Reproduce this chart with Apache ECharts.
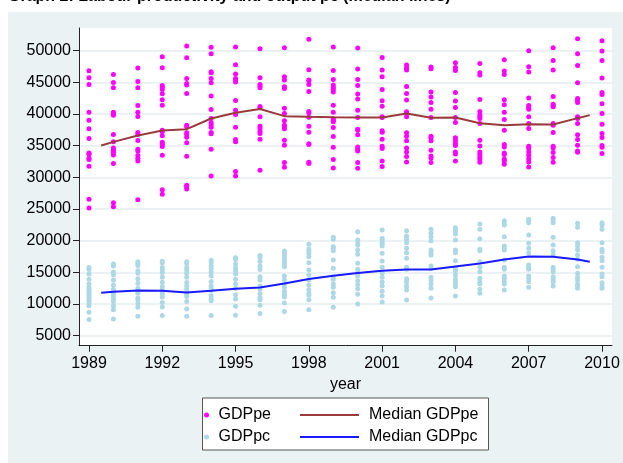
<!DOCTYPE html>
<html>
<head>
<meta charset="utf-8">
<script src="https://cdn.jsdelivr.net/npm/echarts@6/dist/echarts.min.js"></script>
<style>
html,body{margin:0;padding:0;background:#fff;}
#chart{width:623px;height:463px;}
</style>
</head>
<body>
<div id="chart"></div>
<script>
const years = [1989,1990,1991,1992,1993,1994,1995,1996,1997,1998,1999,2000,2001,2002,2003,2004,2005,2006,2007,2008,2009,2010];
const xTicks = [1989,1992,1995,1998,2001,2004,2007,2010];
const yTicks = [5000,10000,15000,20000,25000,30000,35000,40000,45000,50000];

// GDP per employed person, one list per year
const gdppe = [
  [46836,45729,44674,40298,39032,37661,36132,33865,33654,33022,32811,31756,26535,25164],
  [46256,44991,44147,40298,40087,39823,36765,35605,34656,34287,33970,33548,32177,26008,25375],
  [47258,45149,44147,41352,40298,39612,37081,36765,35816,34445,34181,33443,32968,32599,26482],
  [49051,47311,44516,44200,43883,43198,42249,41405,37450,37186,36554,35552,35236,34867,33496,28064,27326],
  [50738,48893,45623,44832,44569,43250,38241,37977,37028,36765,36343,35447,33338,28750,28486,28170],
  [50527,49525,46678,46520,45623,44938,42829,40720,39296,38610,38294,37925,37081,36870,34445,30226],
  [50580,47785,46309,45623,45360,45043,42143,40614,39929,37925,35974,35605,30911,30226],
  [50316,45729,44674,44411,44147,41194,41036,39560,38083,37714,37292,36923,36027,31123],
  [50474,45887,45360,44305,44042,40931,40087,38926,38241,37977,37661,35869,35078,32336,31598],
  [51793,46994,45360,45254,44674,43567,40403,40192,39507,38083,37134,35289,35184,32388,32177],
  [50580,46889,45465,44569,44200,43883,43461,41405,40298,39243,39032,38768,37872,36449,34761,32810,31492],
  [50421,47100,45465,44516,43145,42354,40614,39454,37608,37450,36712,34814,34498,34181,32336,31439],
  [48945,46941,45887,43883,42090,41246,39560,39454,37345,37134,36027,34919,34550,32599,31703],
  [47732,47258,46941,44358,43250,42196,40351,40087,39560,37028,36501,35763,34656,34023,33285,32441],
  [47416,47153,43461,42671,41827,40772,39454,36501,36237,35763,34287,33391,33074,32336],
  [48102,47363,46889,43408,42038,41036,39454,38663,36237,35869,35394,35025,34023,33707,32599],
  [47996,46520,46151,42301,40403,39876,39560,39296,38505,35869,34972,34023,33601,33179,32810,32388],
  [48576,46783,46256,42249,41458,40298,39138,37450,35183,34814,33865,33601,32915,32599,32072],
  [50000,47469,46625,42513,41352,41036,40772,39560,38505,37714,34919,34550,34023,33496,32915,32441,31650],
  [50474,48471,46941,42776,41563,41352,41141,38505,38241,37081,34919,34656,33918,33127,32388],
  [51898,49525,47680,44938,42460,42143,41827,39560,39296,38505,36712,35974,35078,34181,33970],
  [51582,49947,48471,45676,43408,43092,41616,40087,38400,36923,36290,35025,34761,33759]
];

// GDP per capita, one list per year
const gdppc = [
  [15781,15468,14739,13906,13177,12604,12344,11979,11667,11302,10937,10573,10156,9740,8698,7552],
  [16302,15989,15052,14635,13802,13021,12344,12031,11719,11302,10885,10417,9740,9115,7656],
  [16666,16406,16093,15260,14844,14010,13281,12500,12083,11719,10937,10677,10052,9479,8073],
  [16770,16510,15781,15364,14948,14218,13437,12760,12239,11823,11458,11094,10260,9531,8177],
  [16666,16406,15781,15364,14844,14218,13385,12864,12344,11823,11458,11198,10417,9219,8073],
  [16926,16614,15989,15573,15052,14427,13541,12864,12448,12135,11302,10833,10521,8177],
  [17291,17031,16302,15677,15260,14739,13906,13177,12448,11458,10781,9635,8229],
  [17656,17343,16718,15989,15468,14323,13802,12864,12344,11615,11042,10677,9792,8490],
  [18385,17864,17343,16822,16406,15885,14427,13802,13177,12656,11979,11458,11094,10156,8802],
  [19426,18697,18385,17968,17447,16510,15364,14583,13802,13021,12239,11719,11406,10677,9115],
  [20526,20210,19052,18789,18421,16947,15632,14316,13895,13158,12632,11790,11053,9474],
  [21421,20105,19789,19263,18526,17842,16421,15474,14947,14421,13684,13053,12421,11526,10000],
  [21684,20368,20105,19737,19474,19158,18000,16789,15789,14842,14211,13474,12842,12000,11263,10316],
  [21579,20737,20210,19684,18789,18105,17210,15789,15474,14000,13526,12842,12210,10632],
  [21789,21158,20632,20000,18526,18105,17737,16000,15632,14211,13789,13158,12474,10947],
  [22053,21579,21053,20105,18526,18105,16842,15632,15263,14579,13895,13526,13158,12737,11263],
  [22632,21789,20316,18632,18421,16684,15789,15105,14053,13526,13158,12316,11684],
  [23158,22737,22474,20632,19158,18789,18526,16947,15789,15474,14421,14000,13526,13158,12211],
  [23368,23158,22842,20895,19579,18789,18105,16158,15789,15474,14421,14000,13526,12632],
  [23526,23263,22842,20526,19316,18421,17737,15789,15474,15105,14316,13895,13526,12842],
  [22737,22105,19684,19158,18526,17737,17053,15895,14842,14211,13789,13158,12842,12474],
  [22842,22474,21789,19684,18632,18263,17368,16842,15789,14737,14316,13368,12842,12474]
];

// Median band lines
const medX = [1989.5,1990,1991,1992,1993,1994,1995,1996,1997,1998,1999,2000,2001,2002,2003,2004,2005,2006,2007,2008,2009,2009.5];
const medPe = [35025,35605,36607,37397,37608,39296,40192,40800,39665,39560,39480,39454,39454,40087,39401,39454,38558,38241,38399,38347,39349,39823];
const medPc = [11774,11932,12143,12090,11827,12090,12407,12618,13250,13936,14463,14885,15254,15465,15465,15940,16414,17047,17522,17469,17047,16678];

function toPoints(xs, lists) {
  const out = [];
  lists.forEach((vals, i) => vals.forEach(v => out.push([xs[i], v])));
  return out;
}
function zip(xs, ys) { return xs.map((x, i) => [x, ys[i]]); }

const FONT = '"Liberation Sans", Arial, sans-serif';
const chart = echarts.init(document.getElementById('chart'), null, {renderer: 'canvas'});

chart.setOption({
  backgroundColor: '#ffffff',
  animation: false,
  title: {
    text: 'Graph 2: Labour productivity and output pc (median lines)',
    left: 8, top: -11, padding: 0,
    textStyle: {fontFamily: FONT, fontSize: 16, fontWeight: 'bold', color: '#000'}
  },
  graphic: [
    {type: 'rect', z: -10, shape: {x: 8, y: 12, width: 615, height: 451}, style: {fill: '#eaf2f3'}},
    {type: 'rect', z: 1, shape: {x: 202.5, y: 398, width: 286, height: 52}, style: {fill: '#ffffff', stroke: '#555555', lineWidth: 1}}
  ],
  grid: {
    left: 79, right: 11, top: 28, bottom: 117.3,
    show: true, backgroundColor: '#ffffff', borderWidth: 0, containLabel: false
  },
  xAxis: {
    type: 'value',
    min: 1988.591, max: 2010.409,
    name: 'year', nameLocation: 'middle', nameGap: 26,
    nameTextStyle: {fontFamily: FONT, fontSize: 16, color: '#000'},
    axisLine: {show: true, onZero: false, lineStyle: {color: '#222', width: 1}},
    axisTick: {show: true, length: 6, customValues: xTicks, lineStyle: {color: '#222'}},
    axisLabel: {customValues: xTicks, margin: 10, fontFamily: FONT, fontSize: 16, color: '#000',
      formatter: v => String(v)},
    splitLine: {show: false}
  },
  yAxis: {
    type: 'value',
    min: 3421, max: 53584,
    axisLine: {show: true, onZero: false, lineStyle: {color: '#222', width: 1}},
    axisTick: {show: true, length: 6, customValues: yTicks, lineStyle: {color: '#222'}},
    axisLabel: {customValues: yTicks, margin: 8, fontFamily: FONT, fontSize: 16, color: '#000',
      formatter: v => String(v)},
    splitLine: {show: true, lineStyle: {color: '#e4eef0', width: 1.5}}
  },
  legend: [
    {
      orient: 'vertical', left: 204, top: 407, padding: 0, itemGap: 6,
      selectedMode: false, icon: 'circle', itemWidth: 14, itemHeight: 5,
      textStyle: {fontFamily: FONT, fontSize: 16, color: '#000', lineHeight: 16},
      data: ['GDPpe', 'GDPpc']
    },
    {
      orient: 'vertical', left: 300, top: 407, padding: 0, itemGap: 6,
      selectedMode: false, icon: 'rect', itemWidth: 59, itemHeight: 2,
      textStyle: {fontFamily: FONT, fontSize: 16, color: '#000', lineHeight: 16, padding: [0, 0, 0, 5]},
      data: ['Median GDPpe', 'Median GDPpc']
    }
  ],
  series: [
    {name: 'GDPpe', type: 'scatter', symbolSize: 5, itemStyle: {color: '#ff00ff', opacity: 1},
      data: toPoints(years, gdppe), z: 3},
    {name: 'GDPpc', type: 'scatter', symbolSize: 5, itemStyle: {color: '#add8e6', opacity: 1},
      data: toPoints(years, gdppc), z: 3},
    {name: 'Median GDPpe', type: 'line', showSymbol: false, symbol: 'none', color: '#993b3b',
      lineStyle: {color: '#993b3b', width: 2}, data: zip(medX, medPe), z: 4},
    {name: 'Median GDPpc', type: 'line', showSymbol: false, symbol: 'none', color: '#1a1aff',
      lineStyle: {color: '#1a1aff', width: 2}, data: zip(medX, medPc), z: 4}
  ]
});
</script>
</body>
</html>
